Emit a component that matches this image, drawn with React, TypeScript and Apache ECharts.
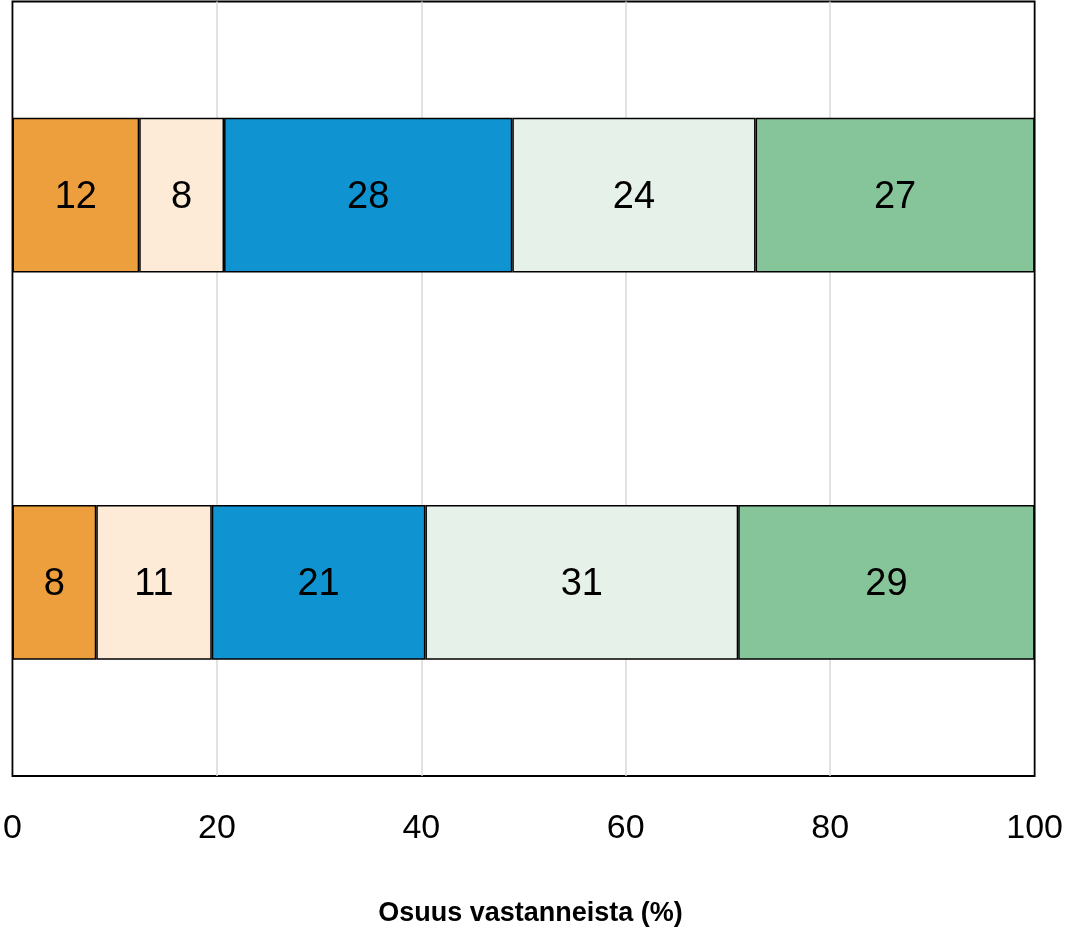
import React, { useEffect, useRef } from "react";
import * as echarts from "echarts";

const categories = ["Ryhmä 1", "Ryhmä 2"];
const seriesNames = [
  "Täysin eri mieltä",
  "Jokseenkin eri mieltä",
  "Ei samaa eikä eri mieltä",
  "Jokseenkin samaa mieltä",
  "Täysin samaa mieltä",
];
const s1 = [12.4, 8.2];
const s2 = [8.3, 11.3];
const s3 = [28.2, 20.9];
const s4 = [23.8, 30.6];
const s5 = [27.3, 29.0];
const seriesValues = [s1, s2, s3, s4, s5];
const colors = ["#EE9F3D", "#FDEBD7", "#0F93D1", "#E6F1E9", "#86C599"];
const xTicks = [0, 20, 40, 60, 80, 100];

const numFont = "'Liberation Sans', Arial, sans-serif";

export default function App() {
  const ref = useRef<HTMLDivElement>(null);
  useEffect(() => {
    if (!ref.current) return;
    const chart = echarts.init(ref.current, null, { renderer: "svg" });
    chart.setOption({
      animation: false,
      grid: {
        left: 10,
        right: 30,
        top: 1.5,
        bottom: 154,
        show: true,
        borderColor: "#000",
        borderWidth: 1.8,
        backgroundColor: "transparent",
        containLabel: false,
      },
      xAxis: {
        type: "value",
        min: xTicks[0],
        max: xTicks[xTicks.length - 1],
        interval: 20,
        axisLine: { show: false },
        axisTick: { show: false },
        splitLine: {
          show: true,
          showMinLine: false,
          showMaxLine: false,
          lineStyle: { color: "#D9D9D9", width: 1.5 },
        },
        axisLabel: {
          color: "#000",
          fontFamily: numFont,
          fontSize: 34,
          margin: 33,
        },
        name: "Osuus vastanneista (%)",
        nameLocation: "middle",
        nameGap: 122,
        nameTextStyle: {
          color: "#000",
          fontFamily: "'Liberation Sans', Arial, sans-serif",
          fontWeight: "bold",
          fontSize: 27,
          padding: [0, 0, 0, 14],
        },
      },
      yAxis: {
        type: "category",
        data: categories,
        inverse: true,
        axisLine: { show: false },
        axisTick: { show: false },
        axisLabel: { show: false },
        splitLine: { show: false },
      },
      series: seriesValues.map((vals, i) => ({
        name: seriesNames[i],
        type: "bar",
        stack: "total",
        barWidth: "40%",
        data: vals,
        itemStyle: { color: colors[i], borderColor: "#000", borderWidth: 1.5 },
        label: {
          show: true,
          position: "inside",
          color: "#000",
          fontFamily: numFont,
          fontSize: 38,
          formatter: (p: any) => String(Math.round(p.value)),
        },
      })),
    });
    return () => chart.dispose();
  }, []);
  return (
    <div
      ref={ref}
      style={{ position: "fixed", left: 0, top: 0, width: 1066, height: 930 }}
    />
  );
}
